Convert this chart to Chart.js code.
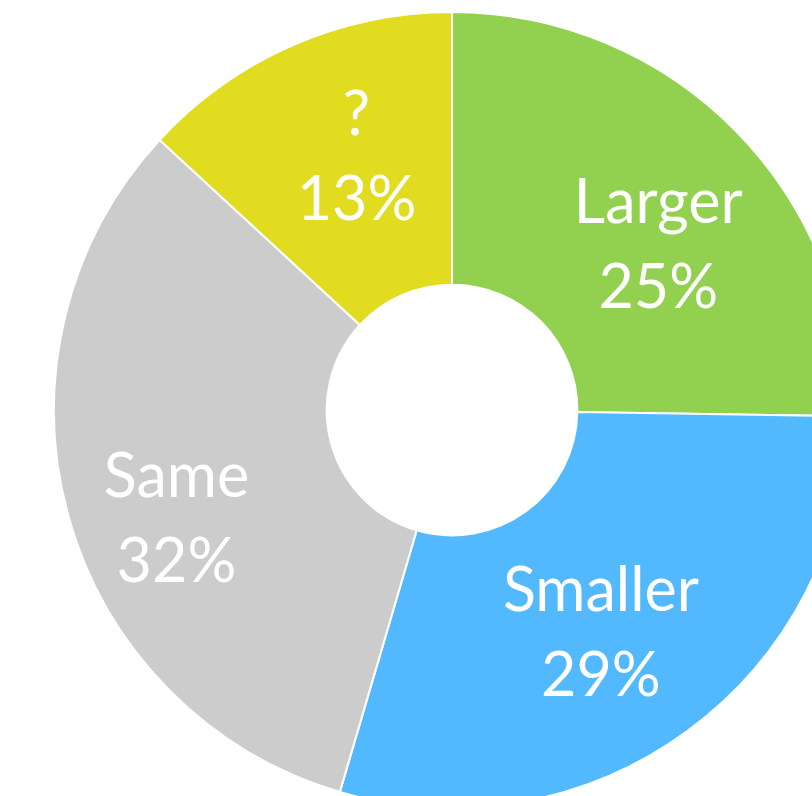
<!DOCTYPE html>
<html>
<head>
<meta charset="utf-8">
<script src="https://cdn.jsdelivr.net/npm/chart.js@4/dist/chart.umd.min.js"></script>
<style>
  html, body { margin: 0; padding: 0; background: #ffffff; overflow: hidden; width: 812px; height: 796px; }
  #wrap { position: absolute; left: 53px; top: 11px; width: 798px; height: 798px; }
</style>
</head>
<body>
<div id="wrap"><canvas id="c" width="798" height="798"></canvas></div>
<script>
const categories = ["Larger", "Smaller", "Same", "?"];
const shares = [25, 29, 32, 13];
const colors = ["#92D050", "#53B9FF", "#CCCCCC", "#E2DC20"];

// label placement tweaks (degrees, pixels) relative to the arc's mid-angle / mid-radius
const labelTweaks = [
  { da: 6, dr: 2 },
  { da: 2.7, dr: 7 },
  { da: -6.3, dr: 35 },
  { da: 2.9, dr: 8 }
];

const labelPlugin = {
  id: 'sliceLabels',
  afterDatasetsDraw(chart) {
    const ctx = chart.ctx;
    const meta = chart.getDatasetMeta(0);
    ctx.save();
    ctx.fillStyle = '#ffffff';
    ctx.textAlign = 'center';
    ctx.textBaseline = 'middle';
    ctx.font = '400 61px Lato, "Open Sans", sans-serif';
    meta.data.forEach((arc, i) => {
      const p = arc.getProps(['x', 'y', 'startAngle', 'endAngle', 'innerRadius', 'outerRadius'], true);
      const t = labelTweaks[i] || { da: 0, dr: 0 };
      const mid = (p.startAngle + p.endAngle) / 2 + t.da * Math.PI / 180;
      const r = (p.innerRadius + p.outerRadius) / 2 + t.dr;
      const cx = p.x + Math.cos(mid) * r;
      const cy = p.y + Math.sin(mid) * r;
      const gap = 85;
      ctx.fillText(categories[i], cx, cy - gap / 2);
      ctx.fillText(shares[i] + '%', cx, cy + gap / 2);
    });
    ctx.restore();
  }
};

new Chart(document.getElementById('c'), {
  type: 'doughnut',
  data: {
    labels: categories,
    datasets: [{
      data: shares,
      backgroundColor: colors,
      borderColor: '#ffffff',
      borderWidth: 2
    }]
  },
  options: {
    responsive: false,
    animation: false,
    cutout: '31.5%',
    layout: { padding: 0 },
    plugins: {
      legend: { display: false },
      tooltip: { enabled: false }
    }
  },
  plugins: [labelPlugin]
});
</script>
</body>
</html>
